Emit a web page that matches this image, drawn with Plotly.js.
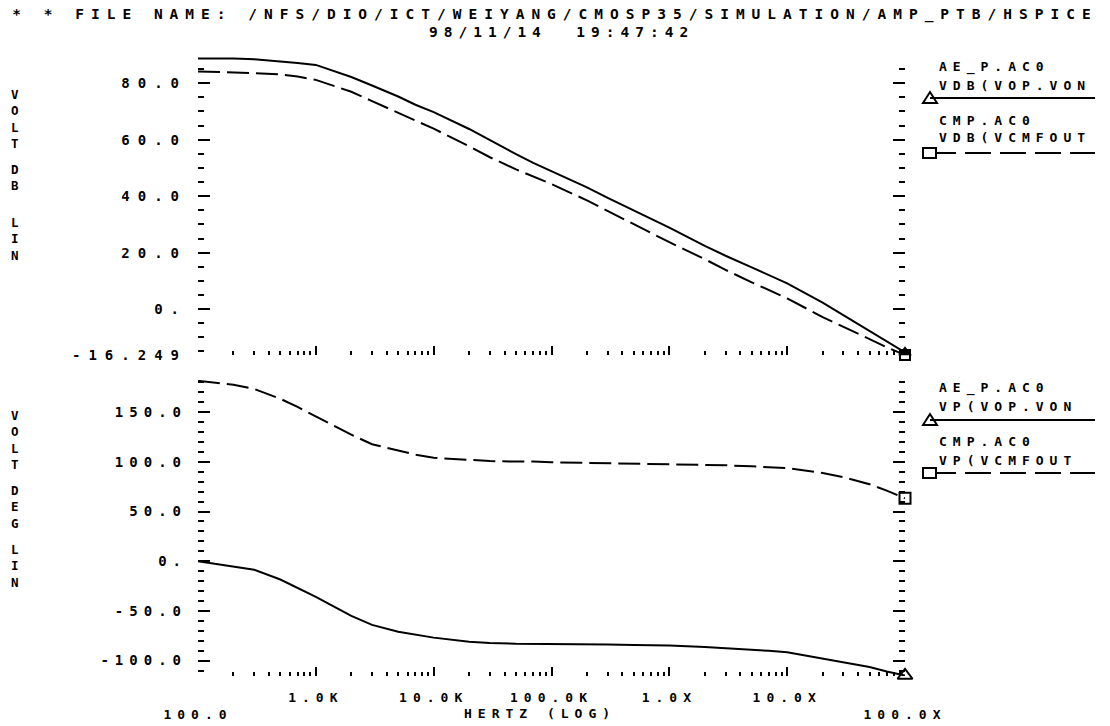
<!DOCTYPE html>
<html><head><meta charset="utf-8">
<script src="https://cdn.plot.ly/plotly-3.0.1.min.js"></script>
<style>
html,body{margin:0;padding:0;background:#fff;}
#plot{width:1110px;height:726px;}
text{letter-spacing:6px;}
g.ytick text{letter-spacing:8px;}
g.xtick text{letter-spacing:7px;}
.gtitle{letter-spacing:7px;}
</style></head><body><div id="plot"></div>
<script>
// ---- data ----
const freq = [100,200,300,500,700,1e3,2e3,3e3,5e3,7e3,1e4,2e4,3e4,5e4,7e4,1e5,2e5,3e5,5e5,7e5,1e6,2e6,3e6,5e6,7e6,1e7,2e7,3e7,5e7,7e7,1e8];
const vdbVopVon = [88.8,88.8,88.5,87.8,87.2,86.5,82.2,79.2,75.3,72.4,69.8,63.8,59.8,54.9,51.8,48.9,43.1,39.4,35.0,32.0,28.9,22.4,18.9,14.8,12.1,9.1,2.3,-2.1,-7.6,-11.3,-15.3];
const vdbVcmfout = [84.2,83.9,83.6,83.1,82.4,81.2,77.0,73.7,69.6,66.9,63.9,57.7,53.8,49.5,46.9,44.3,38.5,34.8,30.2,27.0,23.7,17.7,13.9,9.5,6.8,3.8,-2.8,-6.3,-10.6,-13.5,-16.249];
const vpVopVon = [0,-5.5,-8.6,-18.4,-26.6,-35.9,-55.1,-64.1,-71.0,-73.9,-76.9,-81.0,-82.3,-83.1,-83.1,-83.2,-83.5,-83.8,-84.2,-84.5,-84.8,-86.4,-87.4,-89.0,-90.2,-91.6,-98.1,-101.2,-106.4,-111.0,-115.0];
const vpVcmfout = [181.5,177.5,173.3,163.4,155.2,146.0,127.3,117.7,111.0,107.2,104.0,101.7,100.8,100.2,100.3,99.5,98.9,98.7,98.4,98.2,98.0,97.1,96.5,95.4,94.6,93.6,88.7,84.6,77.5,71.0,63.3];

const xTickVals = [1e2,1e3,1e4,1e5,1e6,1e7,1e8];
const xTickText = ['<br>100.0','1.0K','10.0K','100.0K','1.0X','10.0X','<br>100.0X'];
const yDbTickVals = [-16.249,0,20,40,60,80];
const yDbTickText = ['-16.249','0.','20.0','40.0','60.0','80.0'];
const yDegTickVals = [-100,-50,0,50,100,150];
const yDegTickText = ['-100.0','-50.0','0.','50.0','100.0','150.0'];
const yDbRange = [-16.249, 89.3];
const yDegRange = [-115.5, 182.3];

const titleLine1 = '* * FILE NAME: /NFS/DIO/ICT/WEIYANG/CMOSP35/SIMULATION/AMP_PTB/HSPICE';
const titleLine2 = '98/11/14  19:47:42';
const legendTop = [['AE_P.AC0','VDB(VOP.VON'],['CMP.AC0','VDB(VCMFOUT']];
const legendBot = [['AE_P.AC0','VP(VOP.VON'],['CMP.AC0','VP(VCMFOUT']];
const yTitleTop = ['V<br>O<br>L<br>T','D<br>B','L<br>I<br>N'];
const yTitleBot = ['V<br>O<br>L<br>T','D<br>E<br>G','L<br>I<br>N'];
const xTitle = 'HERTZ (LOG)';

// ---- geometry ----
const L=198, R=905, T=57, B=676;
const px2x = p => (p-L)/(R-L);
const px2y = p => (B-p)/(B-T);
const FAM = 'DejaVu Sans Mono, monospace';
const font = {family:FAM, size:13, color:'#000', weight:'bold'};
const yFont = {family:FAM, size:14, color:'#000', weight:'bold'};
const DASH = '22px,7px';

const last = a => a[a.length-1];
const traces = [
  {x:freq, y:vdbVopVon, xaxis:'x', yaxis:'y', mode:'lines', line:{color:'#000', width:2}},
  {x:freq, y:vdbVcmfout, xaxis:'x', yaxis:'y', mode:'lines', line:{color:'#000', width:2, dash:DASH}},
  {x:[last(freq)], y:[last(vdbVopVon)], xaxis:'x', yaxis:'y', mode:'markers', cliponaxis:false, marker:{symbol:'triangle-up', size:12, color:'#000'}},
  {x:[last(freq)], y:[last(vdbVcmfout)], xaxis:'x', yaxis:'y', mode:'markers', cliponaxis:false, marker:{symbol:'square-open', size:10, color:'#000', line:{width:2}}},
  {x:freq, y:vpVopVon, xaxis:'x2', yaxis:'y2', mode:'lines', line:{color:'#000', width:2}},
  {x:freq, y:vpVcmfout, xaxis:'x2', yaxis:'y2', mode:'lines', line:{color:'#000', width:2, dash:DASH}},
  {x:[last(freq)], y:[last(vpVopVon)], xaxis:'x2', yaxis:'y2', mode:'markers', cliponaxis:false, marker:{symbol:'triangle-up-open', size:13, color:'#000', line:{width:2}}},
  {x:[last(freq)], y:[last(vpVcmfout)], xaxis:'x2', yaxis:'y2', mode:'markers', cliponaxis:false, marker:{symbol:'square-open', size:11, color:'#000', line:{width:2}}}
];

const xCommon = {type:'log', range:[2,8], showline:false, showgrid:false, zeroline:false,
  ticks:'inside', ticklen:9, tickwidth:2, tickcolor:'#000', tickmode:'array', tickvals:xTickVals,
  minor:{ticks:'inside', ticklen:4, tickwidth:2, tickcolor:'#000', dtick:'D1', showgrid:false}};
const yCommon = {showline:false, showgrid:false, zeroline:false, ticks:'inside', ticklen:12, tickwidth:2,
  tickcolor:'#000', mirror:'ticks', tickmode:'array', tickfont:yFont, ticklabelstandoff:10};

const annotations = [];
function addText(txt, xp, yp, anchor, f){
  annotations.push({text:txt, xref:'paper', yref:'paper', x:px2x(xp), y:px2y(yp), xanchor:anchor||'left', yanchor:'middle', showarrow:false, font:f||font});
}
const shapes = [];
function legendBlock(items, yRows){
  items.forEach((it, i) => {
    const r = yRows[i];
    addText(it[0], 937, r[0]);
    addText(it[1], 937, r[1]);
    shapes.push({type:'line', xref:'paper', yref:'paper', x0:px2x(930), x1:px2x(1095), y0:px2y(r[2]), y1:px2y(r[2]), line:{color:'#000', width:2, dash: i===0 ? 'solid' : '26px,9px'}});
    if(i===0){
      shapes.push({type:'path', xref:'paper', yref:'paper', line:{color:'#000', width:2},
        path:`M ${px2x(923)},${px2y(r[2]+5)} L ${px2x(937)},${px2y(r[2]+5)} L ${px2x(930)},${px2y(r[2]-6)} Z`});
    } else {
      shapes.push({type:'rect', xref:'paper', yref:'paper', line:{color:'#000', width:2}, fillcolor:'#fff',
        x0:px2x(923), x1:px2x(936), y0:px2y(r[2]-5), y1:px2y(r[2]+5)});
    }
  });
}
legendBlock(legendTop, [[67,85,98],[120,137,153]]);
legendBlock(legendBot, [[388,406,420],[442,460,473]]);

// vertical axis titles (stacked letters)
const vFont = {family:FAM, size:12.5, color:'#000', weight:'bold'};
[119,178,239].forEach((yc,i) => addText(yTitleTop[i], 18, yc, 'center', vFont));
[440,507,566].forEach((yc,i) => addText(yTitleBot[i], 18, yc, 'center', vFont));
addText(xTitle, 540, 713, 'center');
addText(titleLine2, 561, 32, 'center', {family:FAM, size:14.5, color:'#000', weight:'bold'});

const layout = {
  width:1110, height:726, paper_bgcolor:'#fff', plot_bgcolor:'#fff', showlegend:false,
  margin:{l:L, r:1110-R, t:T, b:726-B},
  font:font,
  title:{text:titleLine1, x:0.5, xref:'container', xanchor:'center', y:1-14/726, yref:'container', yanchor:'middle',
    font:{family:FAM, size:14.5, color:'#000', weight:'bold'}},
  xaxis:Object.assign({}, xCommon, {anchor:'y', showticklabels:false, matches:'x2'}),
  xaxis2:Object.assign({}, xCommon, {anchor:'y2', ticktext:xTickText, tickfont:font, ticklabelstandoff:12}),
  yaxis:Object.assign({}, yCommon, {domain:[px2y(355),1], range:yDbRange, tickvals:yDbTickVals, ticktext:yDbTickText,
    minor:{ticks:'inside', ticklen:6, tickwidth:2, tickcolor:'#000', dtick:5, tick0:0, showgrid:false}}),
  yaxis2:Object.assign({}, yCommon, {domain:[0,px2y(380)], range:yDegRange, tickvals:yDegTickVals, ticktext:yDegTickText,
    minor:{ticks:'inside', ticklen:6, tickwidth:2, tickcolor:'#000', dtick:10, tick0:0, showgrid:false}}),
  annotations:annotations, shapes:shapes
};
Plotly.newPlot('plot', traces, layout, {staticPlot:true, displayModeBar:false});
</script></body></html>
